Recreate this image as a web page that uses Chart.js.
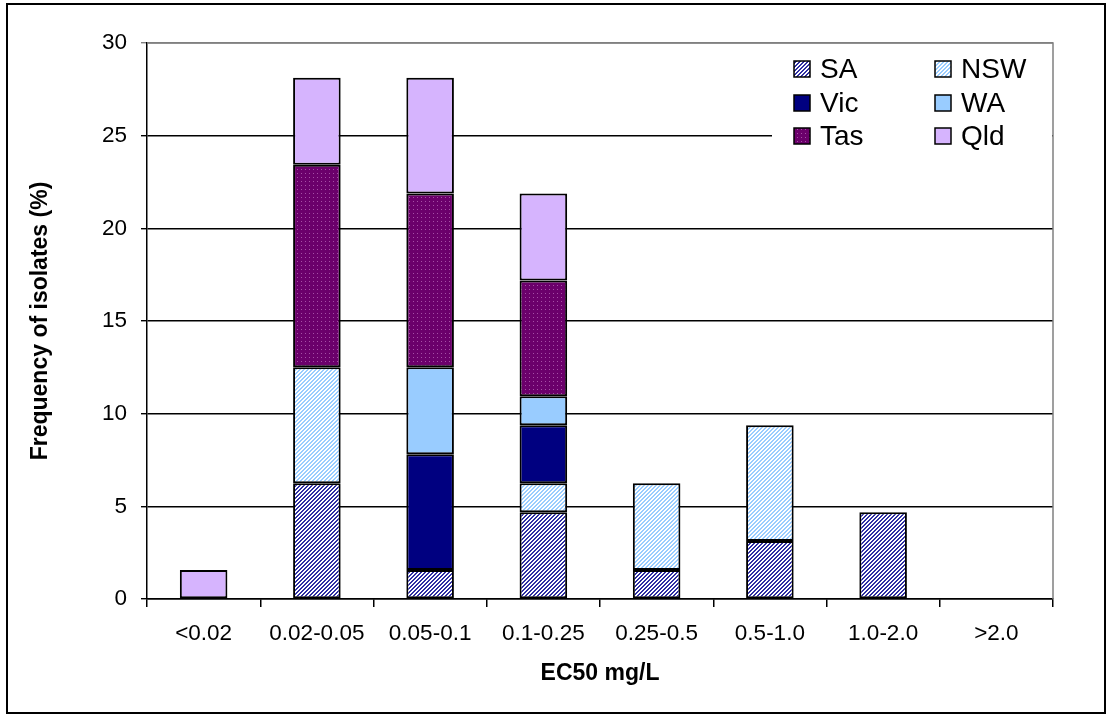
<!DOCTYPE html>
<html>
<head>
<meta charset="utf-8">
<script src="https://cdn.jsdelivr.net/npm/chart.js@4.4.1/dist/chart.umd.min.js"></script>
<style>
  html, body { margin: 0; padding: 0; background: #ffffff; }
  canvas { display: block; }
</style>
</head>
<body>
<canvas id="chart" width="1107" height="715"></canvas>
<script>
// EC50 classes (mg/L) and share of isolates (%) per state
const categories = ['<0.02', '0.02-0.05', '0.05-0.1', '0.1-0.25', '0.25-0.5', '0.5-1.0', '1.0-2.0', '>2.0'];
const saValues  = [null, 6.25, 1.5625, 4.6875, 1.5625, 3.125, 4.6875, null];
const nswValues = [null, 6.25, null, 1.5625, 4.6875, 6.25, null, null];
const vicValues = [null, null, 6.25, 3.125, null, null, null, null];
const waValues  = [null, null, 4.6875, 1.5625, null, null, null, null];
const tasValues = [null, 10.9375, 9.375, 6.25, null, null, null, null];
const qldValues = [1.5625, 4.6875, 6.25, 4.6875, null, null, null, null];
const seriesNames = ['SA', 'NSW', 'Vic', 'WA', 'Tas', 'Qld'];
const yTicks = [0, 5, 10, 15, 20, 25, 30];

// Small tiled fills for the hatched / dotted series
function makePattern(size, paint) {
  const c = document.createElement('canvas');
  c.width = size; c.height = size;
  const g = c.getContext('2d');
  paint(g, size);
  return document.getElementById('chart').getContext('2d').createPattern(c, 'repeat');
}
function hatch(fg, bg) {
  return makePattern(4, (g, s) => {
    g.fillStyle = bg; g.fillRect(0, 0, s, s);
    g.fillStyle = fg;
    for (let y = 0; y < s; y++) for (let x = 0; x < s; x++) {
      if ((x + y) % 4 < 2) g.fillRect(x, y, 1, 1);
    }
  });
}
const saFill = hatch('#2f2fa3', '#ffffff');
const nswFill = hatch('#99ccff', '#ffffff');
const tasFill = makePattern(4, (g, s) => {
  g.fillStyle = '#6b006b'; g.fillRect(0, 0, s, s);
  g.fillStyle = '#a650a6'; g.fillRect(1, 1, 1, 1);
});
const fills = [saFill, nswFill, '#000080', '#99ccff', tasFill, '#d6b4fe'];
const valueSets = [saValues, nswValues, vicValues, waValues, tasValues, qldValues];

const datasets = seriesNames.map((name, i) => ({
  label: name,
  data: valueSets[i],
  backgroundColor: fills[i],
  borderColor: '#000000',
  borderWidth: 2,
  borderSkipped: false,
  categoryPercentage: 1.0,
  barPercentage: 0.42
}));

// Outer frame, plot border and the two-column legend box
const decor = {
  id: 'decor',
  beforeDatasetsDraw(chart) {
    const { ctx, chartArea: a } = chart;
    ctx.save();
    ctx.strokeStyle = '#808080';
    ctx.lineWidth = 1.5;
    ctx.beginPath();
    ctx.moveTo(a.left, a.top);
    ctx.lineTo(a.right, a.top);
    ctx.lineTo(a.right, a.bottom);
    ctx.stroke();
    ctx.restore();
  },
  afterDatasetsDraw(chart) {
    const { ctx } = chart;
    ctx.save();
    ctx.fillStyle = '#ffffff';
    ctx.fillRect(772, 44, 280, 122);
    const colX = [794, 935];
    const rowY = [69, 103, 136];
    ctx.font = '28px "Liberation Sans", Arial, sans-serif';
    ctx.textBaseline = 'middle';
    ctx.textAlign = 'left';
    seriesNames.forEach((name, i) => {
      const x = colX[i % 2];
      const y = rowY[Math.floor(i / 2)];
      ctx.fillStyle = fills[i];
      ctx.fillRect(x, y - 8, 16, 16);
      ctx.strokeStyle = '#000000';
      ctx.lineWidth = 1.5;
      ctx.strokeRect(x, y - 8, 16, 16);
      ctx.fillStyle = '#000000';
      ctx.fillText(name, x + 26, y + 1);
    });
    ctx.restore();
  },
  afterDraw(chart) {
    const { ctx } = chart;
    ctx.save();
    ctx.strokeStyle = '#000000';
    ctx.lineWidth = 2;
    ctx.strokeRect(7, 4, 1098, 709);
    ctx.restore();
  }
};

new Chart(document.getElementById('chart'), {
  type: 'bar',
  data: { labels: categories, datasets },
  plugins: [decor],
  options: {
    responsive: false,
    animation: false,
    devicePixelRatio: 1,
    layout: { padding: { left: 0, top: 43, right: 54, bottom: 0 } },
    plugins: { legend: { display: false }, tooltip: { enabled: false } },
    scales: {
      x: {
        stacked: true,
        grid: { offset: true, drawOnChartArea: false, drawTicks: true, tickLength: 8, color: '#000000', lineWidth: 1.5 },
        border: { display: true, color: '#000000', width: 1.5 },
        ticks: { color: '#000000', padding: 13, font: { family: '"Liberation Sans", Arial, sans-serif', size: 22.5 } },
        title: {
          display: true, text: 'EC50 mg/L', color: '#000000',
          font: { family: '"Liberation Sans", Arial, sans-serif', size: 23, weight: 'bold' },
          padding: { top: 0, bottom: 28 }
        },
        afterFit(scale) { scale.height = 116; }
      },
      y: {
        stacked: true,
        min: 0, max: 30,
        afterBuildTicks(scale) { scale.ticks = yTicks.map(v => ({ value: v })); },
        grid: {
          color: (c) => (c.tick && c.tick.value === 30 ? '#808080' : '#000000'),
          lineWidth: 1.4,
          tickLength: 6
        },
        border: { display: true, color: '#000000', width: 1.5 },
        ticks: { color: '#000000', padding: 14, font: { family: '"Liberation Sans", Arial, sans-serif', size: 22.5 } },
        title: {
          display: true, text: 'Frequency of isolates (%)', color: '#000000',
          font: { family: '"Liberation Sans", Arial, sans-serif', size: 23, weight: 'bold' },
          padding: { top: 27, bottom: 0 }
        },
        afterFit(scale) { scale.width = 147; }
      }
    }
  }
});
</script>
</body>
</html>
